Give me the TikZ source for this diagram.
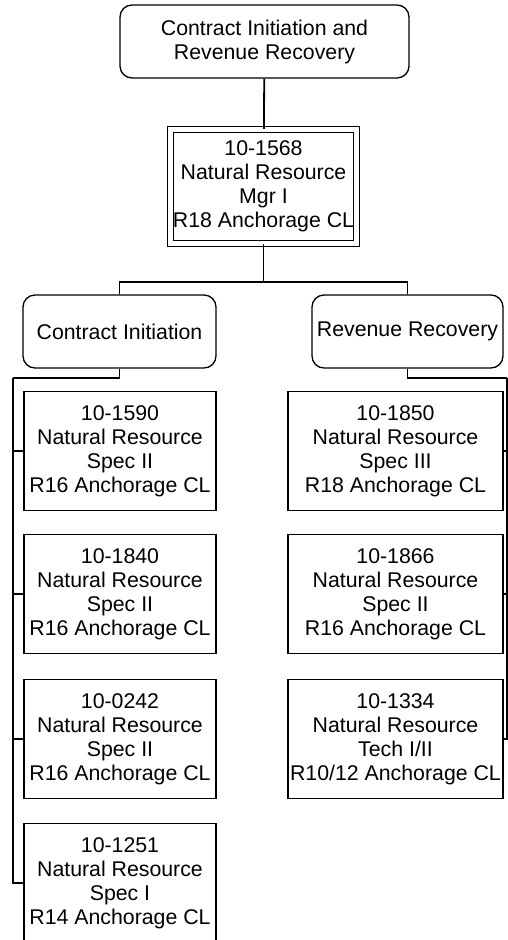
\documentclass[tikz,border=0pt]{standalone}
\usepackage{fontspec}
\setmainfont{Liberation Sans}
\begin{document}
\begin{tikzpicture}[x=1pt,y=-1pt,
  unitbox/.style={draw,rounded corners=12pt,line width=1.3pt,align=center,inner sep=0pt,minimum height=73pt,font=\fontsize{21.3}{24}\selectfont},
  posbox/.style={draw,line width=1.3pt,align=center,inner sep=0pt,minimum height=119pt,font=\fontsize{21.3}{24}\selectfont},
  wire/.style={line width=1.8pt}]
\useasboundingbox (0,0) rectangle (508,940);
\node(top)[unitbox,minimum width=289pt] at (264.5,41.5) {Contract Initiation and\\Revenue Recovery};
\node(mgr)[posbox,double,double distance=4.5pt,minimum width=186pt,minimum height=114pt] at (263.5,186.5) {10-1568\\Natural Resource\\Mgr I\\R18 Anchorage CL};
\node(ci)[unitbox,minimum width=193pt] at (119.5,331.5) {Contract Initiation};
\node(rr)[unitbox,minimum width=191pt] at (407.5,331.5) {Revenue Recovery};
%
\node(ci1)[posbox,minimum width=192pt] at (120,451) {10-1590\\Natural Resource\\Spec II\\R16 Anchorage CL};
\node(ci2)[posbox,minimum width=192pt] at (120,594) {10-1840\\Natural Resource\\Spec II\\R16 Anchorage CL};
\node(ci3)[posbox,minimum width=192pt] at (120,739) {10-0242\\Natural Resource\\Spec II\\R16 Anchorage CL};
\node(ci4)[posbox,minimum width=192pt] at (120,883) {10-1251\\Natural Resource\\Spec I\\R14 Anchorage CL};
\node(rr1)[posbox,minimum width=215pt] at (395.5,451) {10-1850\\Natural Resource\\Spec III\\R18 Anchorage CL};
\node(rr2)[posbox,minimum width=215pt] at (395.5,594) {10-1866\\Natural Resource\\Spec II\\R16 Anchorage CL};
\node(rr3)[posbox,minimum width=215pt] at (395.5,739) {10-1334\\Natural Resource\\Tech I/II\\R10/12 Anchorage CL};
%
\coordinate(split) at (263.5,282);
\coordinate(cibus) at (13,378);
\coordinate(rrbus) at (507,378);
\draw[wire](top) -- (mgr);
\draw[wire](mgr.south) -- (split) -| (ci.north);
\draw[wire](split) -| (rr.north);
\draw[wire](ci.south) |- (cibus);
\draw[wire](rr.south) |- (rrbus);
\foreach \n in {1,2,3,4}
  \draw[wire](cibus) |- (ci\n.west);
\foreach \n in {1,2,3}
  \draw[wire](rrbus) |- (rr\n.east);
\end{tikzpicture}
\end{document}
